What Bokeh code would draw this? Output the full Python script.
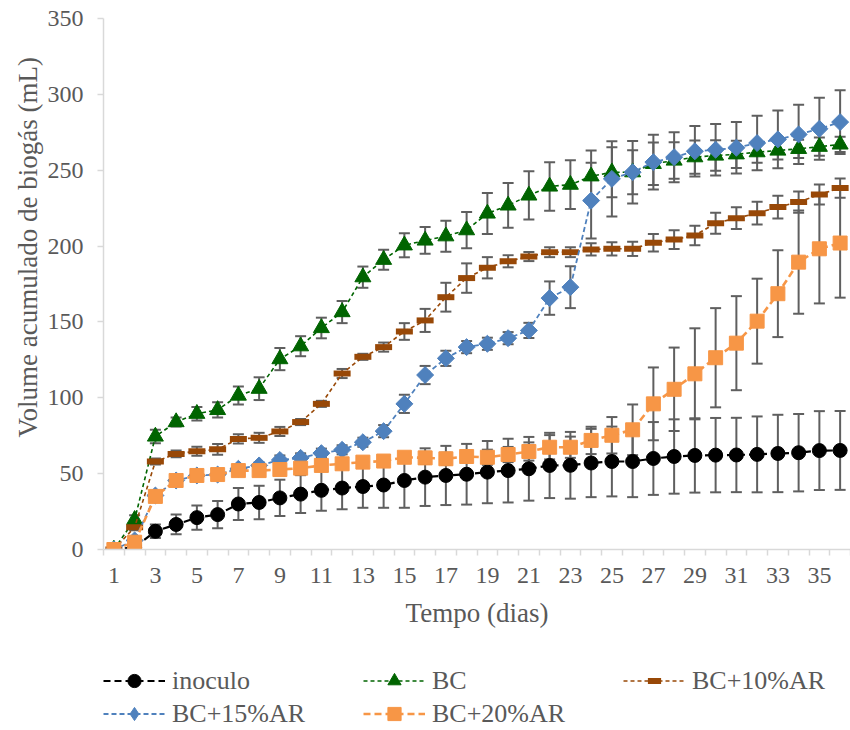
from bokeh.plotting import figure
from bokeh.models import (Whisker, TeeHead, ColumnDataSource, FixedTicker,
                          Legend, LegendItem, Range1d, Title)
from bokeh.layouts import column
from bokeh.embed import file_html
from bokeh.resources import INLINE
import math

days = list(range(1, 37))
x_tick_values = list(range(1, 37, 2))
x_tick_labels = [str(d) for d in x_tick_values]
y_tick_values = [0, 50, 100, 150, 200, 250, 300, 350]

series_names = ["inoculo", "BC", "BC+10%AR", "BC+15%AR", "BC+20%AR"]

inoculo = [0, 1.5, 12, 16.5, 21, 23, 30, 31, 34, 36.5, 39, 40.5, 41.5, 42.5, 45.5, 47.7,
           48.8, 49.6, 51, 52, 53.2, 55.4, 55.5, 57, 58, 58, 60, 61.3, 62, 62.2, 62.3,
           62.7, 63.3, 63.8, 65.2, 65.3]
inoculo_err = [0, 1, 4.5, 6.5, 8, 9, 10.5, 11, 12, 12.5, 13.5, 14, 14, 15, 18, 19, 19.5,
               20, 20.5, 21, 21, 21.5, 22, 22.5, 23, 23.5, 24, 24.5, 24.5, 24.5, 24.5, 25,
               25.5, 25.5, 26, 26]

bc = [0, 19.6, 74.5, 84, 89.5, 92, 101.5, 106, 125.5, 134, 146, 156.5, 179.5, 191, 200.5,
      203.7, 206.5, 210.5, 221.5, 226.8, 233.4, 239.3, 240.5, 246, 248.7, 248.7, 254.2,
      256.4, 258.6, 259.7, 260.5, 261.9, 263, 264.1, 265.5, 267]
bc_err = [0, 3, 4.5, 3, 4.5, 5, 6, 7.5, 7.3, 6.6, 6.8, 7.3, 7, 6.6, 7.9, 8.8, 10.2, 12,
          13.5, 14.8, 15.9, 16, 16, 17, 16.5, 14.5, 14, 12, 11, 10, 9, 7, 6, 6, 6, 5]

bc10 = [0, 14.7, 58, 63, 64.8, 66, 72.9, 73.6, 77.8, 84, 96, 116, 127, 133.4, 143.7, 151,
        166.3, 178.9, 185.7, 190, 193.1, 196, 196, 197.8, 198.2, 198.2, 202.2, 204.3, 207,
        215.1, 218.4, 221.7, 225.7, 229, 234, 238.2]
bc10_err = [0, 2, 2, 2.2, 3, 3.5, 3, 3.3, 3, 2, 2, 3, 2, 3, 5.5, 7.6, 9.5, 9.7, 7, 4, 3,
            3.3, 3.3, 4, 4.4, 4.7, 5.7, 6.2, 6.4, 6.9, 7.2, 7.5, 7.5, 7, 6.6, 6.3]

bc15 = [0, 6, 35.6, 45.5, 48.8, 49.4, 53.2, 55.4, 59, 60.4, 63.5, 65.7, 70.7, 78, 96, 115,
        126, 133.4, 135.6, 139.3, 144.4, 165.7, 172.9, 230, 244.3, 248.7, 255.3, 258.6,
        262.5, 263.5, 264.8, 267.9, 270.3, 273.6, 277.3, 281.7]
bc15_err = [0, 1, 2, 2, 2, 2, 2, 2, 3, 3, 3, 3, 3, 4, 6, 6, 5, 4, 4, 4, 5, 11, 13.8, 25,
            24.8, 20.6, 18, 16.5, 16.7, 17, 17, 18, 19, 19.5, 20.4, 21]

bc20 = [0, 4.8, 35, 45.5, 48.8, 49.4, 52, 52, 52.7, 53.6, 55.4, 56.5, 57.6, 58.3, 60.8,
        60.4, 59.8, 61.3, 60.8, 62.6, 64.6, 67.4, 67.4, 71.9, 75.3, 78.9, 96, 105.6, 115.8,
        126.4, 136, 150.5, 168.6, 189.4, 198.2, 202]
bc20_err = [0, 1, 2, 2, 2, 2, 2, 2, 3, 3, 3, 3, 3, 3, 3, 4, 4, 4, 5, 5, 6, 8, 7, 9, 12,
            16.7, 24, 27.5, 30, 32.7, 31, 28, 28.6, 34, 36, 36]

values = [inoculo, bc, bc10, bc15, bc20]
errors = [inoculo_err, bc_err, bc10_err, bc15_err, bc20_err]

styles = [
    dict(color="#000000", dash="7 4", lw=2.2, marker="circle", size=14, angle=0, mlw=1,
         lmarker="circle", lsize=14),
    dict(color="#006400", dash="4 3", lw=1.6, marker="triangle", size=16, angle=0, mlw=1,
         lmarker="triangle", lsize=16),
    dict(color="#984807", dash="4 3", lw=1.6, marker="dash", size=17, angle=0, mlw=6,
         lmarker="dash", lsize=17),
    dict(color="#4F81BD", dash="5 3", lw=1.8, marker="square", size=12, angle=math.pi / 4,
         mlw=1, lmarker="diamond", lsize=26),
    dict(color="#F79646", dash="7 4", lw=2.6, marker="square", size=14, angle=0, mlw=1,
         lmarker="square", lsize=14),
]

TEXT = "#595959"
AXIS = "#d9d9d9"
FONT = "Liberation Serif"

p = figure(width=850, height=648, output_backend="svg", toolbar_location=None,
           x_range=Range1d(0.5, 36.5), y_range=Range1d(0, 350),
           min_border_left=103, min_border_right=0, min_border_top=18,
           min_border_bottom=99)
p.outline_line_color = None
p.xgrid.visible = False
p.ygrid.visible = False
p.background_fill_color = "white"
p.border_fill_color = "white"

# axes
p.xaxis.ticker = FixedTicker(ticks=x_tick_values, minor_ticks=[i + 0.5 for i in range(0, 37)])
p.xaxis.major_label_overrides = {v: l for v, l in zip(x_tick_values, x_tick_labels)}
p.xaxis.major_tick_line_color = None
p.xaxis.major_tick_out = 6
p.xaxis.minor_tick_line_color = AXIS
p.xaxis.minor_tick_line_width = 1.5
p.xaxis.minor_tick_out = 6
p.xaxis.minor_tick_in = 0
p.xaxis.major_label_standoff = 12
p.xaxis.axis_label = "Tempo (dias)"
p.xaxis.axis_label_standoff = 12

p.yaxis.ticker = FixedTicker(ticks=y_tick_values, minor_ticks=[])
p.yaxis.major_tick_line_color = AXIS
p.yaxis.major_tick_line_width = 1.5
p.yaxis.major_tick_out = 6
p.yaxis.major_tick_in = 0
p.yaxis.major_label_standoff = 14

for ax in (p.xaxis, p.yaxis):
    ax.axis_line_color = AXIS
    ax.axis_line_width = 1.5
    ax.major_label_text_font = FONT
    ax.major_label_text_font_size = "24px"
    ax.major_label_text_color = TEXT
    ax.axis_label_text_font = FONT
    ax.axis_label_text_font_size = "27px"
    ax.axis_label_text_font_style = "normal"
    ax.axis_label_text_color = TEXT

ytitle = Title(text="Volume acumulado de biogás (mL)", align="left", offset=112,
               text_font=FONT, text_font_size="27px", text_font_style="normal",
               text_color=TEXT, standoff=4)
p.add_layout(ytitle, "left")

# error bars (beneath markers)
for vals, errs in zip(values, errors):
    src = ColumnDataSource(dict(x=days,
                                upper=[v + e for v, e in zip(vals, errs)],
                                lower=[v - e for v, e in zip(vals, errs)]))
    w = Whisker(source=src, base="x", upper="upper", lower="lower", dimension="height",
                line_color="#5f5f5f", line_width=2, level="underlay",
                upper_head=TeeHead(size=11, line_color="#5f5f5f", line_width=2),
                lower_head=TeeHead(size=11, line_color="#5f5f5f", line_width=2))
    p.add_layout(w)

for name, vals, st in zip(series_names, values, styles):
    src = ColumnDataSource(dict(x=days, y=vals))
    p.line("x", "y", source=src, line_color=st["color"], line_width=st["lw"],
           line_dash=st["dash"])
    p.scatter("x", "y", source=src, marker=st["marker"], size=st["size"],
              angle=st["angle"], fill_color=st["color"], line_color=st["color"],
              line_width=st["mlw"])

# legend strip below the chart (its frame is aligned with the chart's frame)
lg = figure(width=850, height=82, output_backend="svg", toolbar_location=None,
            x_range=Range1d(0, 1), y_range=Range1d(0, 1),
            min_border_left=0, min_border_right=0, min_border_top=0, min_border_bottom=0)
lg.axis.visible = False
lg.grid.visible = False
lg.outline_line_color = None
lg.background_fill_color = "white"
lg.border_fill_color = "white"

items = []
for name, st in zip(series_names, styles):
    # legend-only renderers; their single point lies outside the visible range
    src = ColumnDataSource(dict(x=[-5], y=[-5]))
    lr = lg.line("x", "y", source=src, line_color=st["color"], line_width=st["lw"],
                 line_dash=st["dash"])
    sr = lg.scatter("x", "y", source=src, marker=st["lmarker"], size=st["lsize"],
                    fill_color=st["color"], line_color=st["color"],
                    line_width=st["mlw"])
    items.append(LegendItem(label=name, renderers=[lr, sr]))

legend = Legend(items=items, location=(0, 0), orientation="horizontal", ncols=3,
                glyph_width=62, glyph_height=33, label_height=33, label_width=191,
                label_standoff=7, spacing=0, padding=0, margin=0,
                label_text_font=FONT, label_text_font_size="26px",
                label_text_color=TEXT, border_line_color=None,
                background_fill_alpha=0)
lg.add_layout(legend)

layout = column(p, lg, spacing=0)
open("out.html", "w").write(file_html(layout, INLINE))
